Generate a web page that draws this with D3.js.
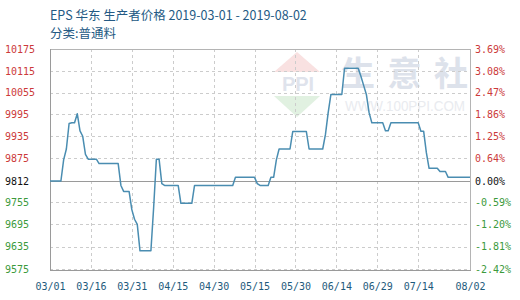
<!DOCTYPE html>
<html>
<head>
<meta charset="utf-8">
<script src="https://cdn.jsdelivr.net/npm/d3@7"></script>
<style>
  body { margin: 0; background: #fff; }
  svg { display: block; }
</style>
</head>
<body>
<svg id="chart" width="520" height="300"></svg>
<script>
// Titles
const titleText = "EPS 华东 生产者价格 2019-03-01 - 2019-08-02";
const subtitleText = "分类:普通料";

// Daily producer price series, one value per day from startDate
const startDate = "2019-03-01";
const prices = [
  9812, 9812, 9812, 9812, 9812, 9870, 9900, 9970, 9972, 9972,
  9997, 9950, 9935, 9885, 9872, 9872, 9872, 9872, 9860, 9860,
  9860, 9860, 9860, 9860, 9860, 9860, 9800, 9784, 9784, 9784,
  9735, 9709, 9695, 9624, 9624, 9624, 9624, 9624, 9740, 9872,
  9872, 9805, 9800, 9800, 9800, 9800, 9800, 9800, 9752, 9752,
  9752, 9752, 9752, 9800, 9800, 9800, 9800, 9800, 9800, 9800,
  9800, 9800, 9800, 9800, 9800, 9800, 9800, 9800, 9822, 9822,
  9822, 9822, 9822, 9822, 9822, 9822, 9805, 9800, 9800, 9800,
  9800, 9822, 9822, 9870, 9900, 9900, 9900, 9900, 9900, 9948,
  9948, 9948, 9948, 9948, 9948, 9900, 9900, 9900, 9900, 9900,
  9900, 9940, 10000, 10050, 10050, 10050, 10050, 10050, 10122, 10122,
  10122, 10122, 10122, 10122, 10100, 10075, 10050, 10000, 9972, 9972,
  9972, 9972, 9972, 9950, 9950, 9972, 9972, 9972, 9972, 9972,
  9972, 9972, 9972, 9972, 9972, 9972, 9949, 9949, 9890, 9847,
  9847, 9847, 9847, 9838, 9838, 9838, 9822, 9822, 9822, 9822,
  9822, 9822, 9822, 9822, 9822
];

// Base price (0.00%) and axis labels
const basePrice = 9812;
const priceTicks = [10175, 10115, 10055, 9995, 9935, 9875, 9812, 9755, 9695, 9635, 9575];
const changeTicks = ["3.69%", "3.08%", "2.47%", "1.86%", "1.25%", "0.64%", "0.00%",
                     "-0.59%", "-1.20%", "-1.81%", "-2.42%"];
const dateTicks = ["2019-03-01", "2019-03-16", "2019-03-31", "2019-04-15", "2019-04-30",
                   "2019-05-15", "2019-05-30", "2019-06-14", "2019-06-29", "2019-07-14",
                   "2019-08-02"];

const parse = d3.timeParse("%Y-%m-%d");
const t0 = parse(startDate);
const series = prices.map((v, i) => ({ date: d3.timeDay.offset(t0, i), value: v }));
const tickDates = dateTicks.map(parse);

const plot = { left: 50, right: 470, top: 49, bottom: 269 };
const x = d3.scaleTime()
  .domain([t0, tickDates[tickDates.length - 1]])
  .range([plot.left, plot.right]);
// Base price sits on the middle gridline; ticks above and below are evenly spaced
const y = d3.scaleLinear()
  .domain([priceTicks[priceTicks.length - 1], basePrice, priceTicks[0]])
  .range([plot.bottom, plot.bottom - 4 * (plot.bottom - plot.top) / 10, plot.top]);

const svg = d3.select("#chart");
const mono = "'DejaVu Sans Mono', 'Liberation Mono', monospace";
const cjk = "'Noto Sans CJK SC', 'Noto Sans', sans-serif";

// Header
svg.append("text").attr("x", 50).attr("y", 20)
  .attr("font-family", cjk).attr("font-size", 12.5).attr("fill", "#245a84")
  .text(titleText);
svg.append("text").attr("x", 50).attr("y", 38)
  .attr("font-family", cjk).attr("font-size", 12.5).attr("fill", "#245a84")
  .text(subtitleText);

// Watermark
const wm = svg.append("g").attr("pointer-events", "none");
wm.append("polygon").attr("points", "297,52 320,72 274,72").attr("fill", "#f9e1e1");
wm.append("polygon").attr("points", "274,96 320,96 297,117").attr("fill", "#e1f1e1");
wm.append("text").attr("x", 298).attr("y", 91).attr("text-anchor", "middle")
  .attr("font-family", "'Liberation Sans', sans-serif").attr("font-weight", 700)
  .attr("font-size", 20).attr("fill", "#dfe3ec").text("PPI");
["生", "意", "社"].forEach((ch, i) => {
  wm.append("text").attr("x", 358 + i * 46.5).attr("y", 86).attr("text-anchor", "middle")
    .attr("font-family", cjk).attr("font-weight", 700).attr("font-size", 34)
    .attr("fill", "#dde2eb").text(ch);
});
wm.append("text").attr("x", 345).attr("y", 111)
  .attr("font-family", "'Liberation Sans', sans-serif").attr("font-size", 15)
  .attr("textLength", 120).attr("lengthAdjust", "spacingAndGlyphs")
  .attr("fill", "#e9ebef").text("WWW.100PPI.COM");

// Gridlines
const grid = svg.append("g");
grid.selectAll("line.h").data(priceTicks.filter(d => d !== basePrice)).join("line")
  .attr("x1", plot.left).attr("x2", plot.right)
  .attr("y1", d => Math.round(y(d)) + 0.5).attr("y2", d => Math.round(y(d)) + 0.5)
  .attr("stroke", "#cccccc").attr("stroke-dasharray", "3,3");
grid.selectAll("line.v").data(tickDates.slice(1, -1)).join("line")
  .attr("x1", d => Math.round(x(d)) + 0.5).attr("x2", d => Math.round(x(d)) + 0.5)
  .attr("y1", plot.top).attr("y2", plot.bottom)
  .attr("stroke", "#cccccc").attr("stroke-dasharray", "3,3");

// Frame and base line
svg.append("rect").attr("x", plot.left + 0.5).attr("y", plot.top + 0.5)
  .attr("width", plot.right - plot.left).attr("height", plot.bottom - plot.top + 1)
  .attr("fill", "none").attr("stroke", "#b4b4b4");
svg.append("line").attr("x1", plot.left).attr("x2", plot.right)
  .attr("y1", Math.round(y(basePrice)) + 0.5).attr("y2", Math.round(y(basePrice)) + 0.5)
  .attr("stroke", "#9a9a9a");
svg.append("line").attr("x1", plot.left).attr("x2", plot.right + 1)
  .attr("y1", plot.bottom + 1.5).attr("y2", plot.bottom + 1.5)
  .attr("stroke", "#9a9a9a");
svg.append("line").attr("x1", plot.left + 0.5).attr("x2", plot.left + 0.5)
  .attr("y1", plot.top).attr("y2", plot.bottom + 2)
  .attr("stroke", "#9a9a9a");

// Price line
svg.append("path").datum(series)
  .attr("fill", "none").attr("stroke", "#4a8db1").attr("stroke-width", 1.5)
  .attr("stroke-linejoin", "round")
  .attr("d", d3.line().x(d => x(d.date)).y(d => y(d.value)));

const tickColor = v => v > basePrice ? "#cc3a3a" : v < basePrice ? "#3c9a3c" : "#111111";

// Left axis: prices
const gl = svg.append("g").attr("transform", "translate(5,0)")
  .call(d3.axisLeft(y).tickValues(priceTicks).tickSize(0).tickPadding(0)
    .tickFormat(d3.format("d")));
gl.select(".domain").remove();
gl.selectAll("text")
  .attr("x", 0).attr("text-anchor", "start")
  .attr("font-family", mono).attr("font-size", 10)
  .attr("fill", d => tickColor(d));

// Right axis: change relative to base
const gr = svg.append("g").attr("transform", "translate(475,0)")
  .call(d3.axisRight(y).tickValues(priceTicks).tickSize(0).tickPadding(0)
    .tickFormat((d, i) => changeTicks[i]));
gr.select(".domain").remove();
gr.selectAll("text")
  .attr("font-family", mono).attr("font-size", 10)
  .attr("fill", d => tickColor(d));

// Bottom axis: dates
const gb = svg.append("g").attr("transform", `translate(0,${plot.bottom + 1})`)
  .call(d3.axisBottom(x).tickValues(tickDates).tickSize(0).tickPadding(13)
    .tickFormat(d3.timeFormat("%m/%d")));
gb.select(".domain").remove();
gb.selectAll("text")
  .attr("font-family", mono).attr("font-size", 10)
  .attr("fill", "#1e5a7c");
</script>
</body>
</html>
